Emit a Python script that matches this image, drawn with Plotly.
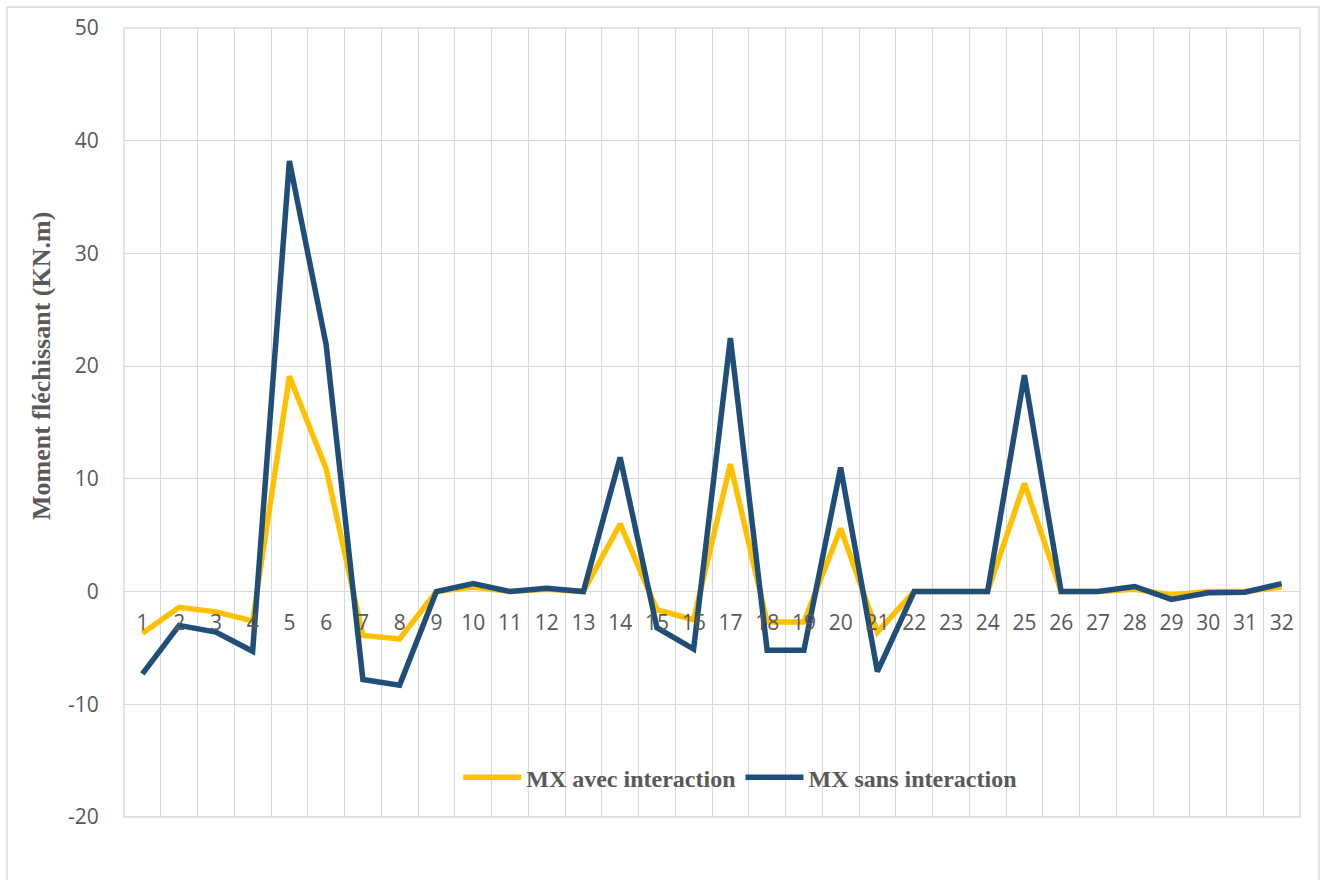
import plotly.graph_objects as go

categories = [str(i) for i in range(1, 33)]
mx_avec = [-3.7, -1.4, -1.8, -2.6, 19.1, 10.9, -3.9, -4.2, 0.0, 0.4,
           0.0, 0.2, 0.0, 6.0, -1.6, -2.5, 11.3, -2.7, -2.7, 5.6,
           -3.6, 0.0, 0.0, 0.0, 9.6, 0.0, 0.0, 0.2, -0.3, 0.0,
           0.0, 0.4]
mx_sans = [-7.3, -3.0, -3.6, -5.3, 38.2, 21.9, -7.8, -8.3, 0.0, 0.7,
           0.0, 0.3, 0.0, 11.9, -3.2, -5.1, 22.5, -5.2, -5.2, 11.0,
           -7.1, 0.0, 0.0, 0.0, 19.2, 0.0, 0.0, 0.45, -0.7, -0.1,
           -0.05, 0.7]
y_ticks = [-20, -10, 0, 10, 20, 30, 40, 50]
y_tick_labels = ["-20", "-10", "0", "10", "20", "30", "40", "50"]
y_title = "Moment fléchissant (KN.m)"

W, H = 1323, 880
L, R, T, B = 124, 23, 28, 63
pw, ph = W - L - R, H - T - B

fig = go.Figure()
fig.add_trace(go.Scatter(x=categories, y=mx_avec, mode="lines", name="MX avec interaction",
                         line=dict(color="#FFC000", width=5.5)))
fig.add_trace(go.Scatter(x=categories, y=mx_sans, mode="lines", name="MX sans interaction",
                         line=dict(color="#1F4E79", width=5.5)))

ymin, ymax = -20, 50
zero_pos = (0 - ymin) / (ymax - ymin)

fig.update_layout(
    width=W, height=H,
    margin=dict(l=L, r=R, t=T, b=B),
    paper_bgcolor="white", plot_bgcolor="white",
    xaxis=dict(type="category", tickson="boundaries", showgrid=True, gridcolor="#D9D9D9",
               gridwidth=1.3, anchor="free", position=zero_pos, showline=False,
               ticks="", ticklabelstandoff=16,
               tickfont=dict(family="Open Sans", size=21, color="#595959"),
               range=[-0.5, 31.5], zeroline=False),
    yaxis=dict(range=[ymin, ymax], tickvals=y_ticks, ticktext=y_tick_labels,
               showgrid=True, gridcolor="#D9D9D9",
               gridwidth=1.3, zeroline=True, zerolinecolor="#D9D9D9", zerolinewidth=1.3,
               showline=False, ticks="outside", ticklen=20, tickcolor="rgba(0,0,0,0)",
               tickfont=dict(family="Open Sans", size=21, color="#595959")),
    showlegend=True,
    legend=dict(orientation="h", x=0.524, xanchor="center", y=0.05, yanchor="middle",
                bgcolor="rgba(0,0,0,0)", font=dict(family="Liberation Serif", size=24,
                color="#595959", weight="bold"), itemwidth=58, tracegroupgap=0),
    annotations=[dict(text="<b>" + y_title + "</b>", xref="paper", yref="paper",
                      x=(42 - L) / pw, y=(H - B - 366) / ph, textangle=-90,
                      showarrow=False, xanchor="center", yanchor="middle",
                      font=dict(family="Liberation Serif", size=26, color="#595959"))],
    shapes=[
        dict(type="rect", xref="paper", yref="paper",
             x0=(7 - L) / pw, x1=(1319 - L) / pw, y0=(H - B - 890) / ph, y1=(H - B - 7) / ph,
             line=dict(color="#D9D9D9", width=1.3), fillcolor="rgba(0,0,0,0)", layer="below"),
        dict(type="rect", xref="paper", yref="paper", x0=0, x1=1, y0=0, y1=1,
             line=dict(color="#D9D9D9", width=1.3), fillcolor="rgba(0,0,0,0)", layer="below"),
    ],
)

fig.write_html("out.html")
